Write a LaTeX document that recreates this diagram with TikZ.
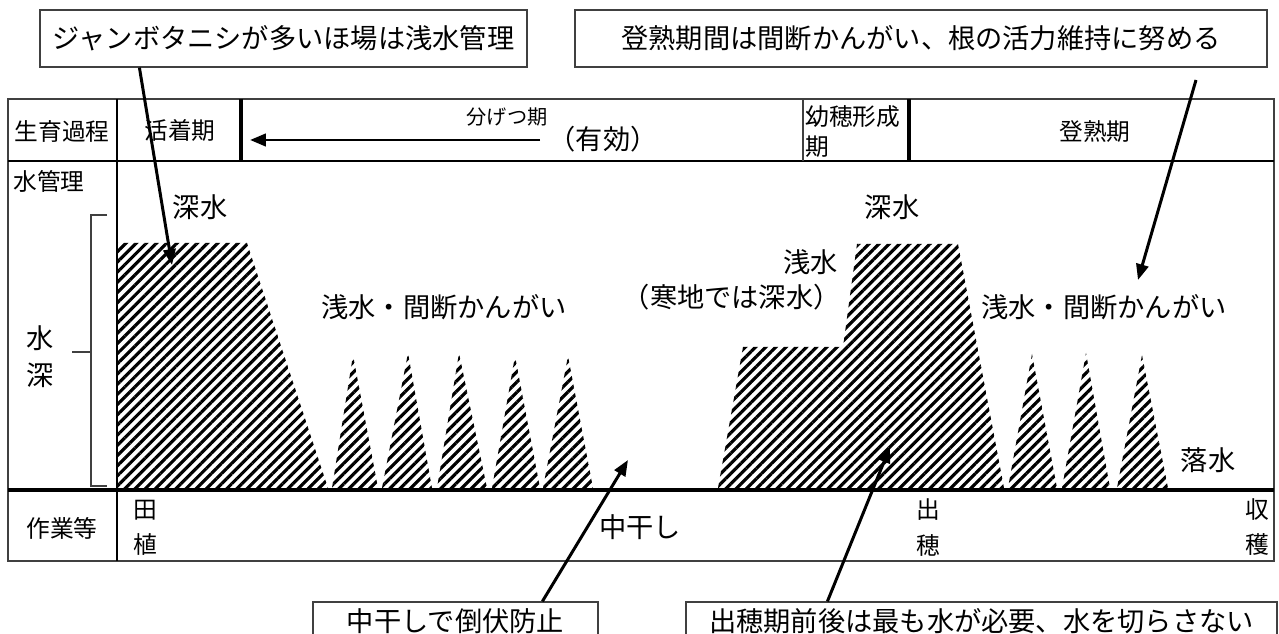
\documentclass[tikz,border=0pt]{standalone}
\usepackage{fontspec}
\setmainfont{Noto Sans CJK JP}
\usetikzlibrary{patterns.meta,arrows.meta}
\begin{document}
\begin{tikzpicture}[x=0.02cm,y=-0.02cm,
	>={Triangle[length=9pt,width=7pt]},
	hatch/.style={pattern={Lines[angle=45,distance=4.1pt,line width=1.8pt]}},
	tbl/.style={inner sep=0pt,font=\fontsize{13.5}{16}\selectfont},
	small/.style={inner sep=0pt,font=\fontsize{11.5}{14}\selectfont},
	lbl/.style={inner sep=0pt,font=\fontsize{15.5}{18}\selectfont},
	callout/.style={rectangle,draw=black!75,line width=0.7pt,fill=white,font=\fontsize{15.5}{18}\selectfont}]
		\useasboundingbox (0,0) rectangle (1279,634);
		
		%water depth
		\fill[hatch] (118,243) -- (247,243) -- (328,488) -- (118,488) -- cycle;
		\fill[hatch] (332,488) -- (353,355) -- (378,488) -- cycle;
		\fill[hatch] (382,488) -- (408,353) -- (432,488) -- cycle;
		\fill[hatch] (437,488) -- (459,353) -- (487,488) -- cycle;
		\fill[hatch] (492,488) -- (515,356) -- (540,488) -- cycle;
		\fill[hatch] (543,488) -- (568,356) -- (593,488) -- cycle;
		\fill[hatch] (718,488) -- (743,347) -- (843,347) -- (857,244) -- (958,244) -- (1004,488) -- cycle;
		\fill[hatch] (1008,488) -- (1032,354) -- (1057,488) -- cycle;
		\fill[hatch] (1062,488) -- (1086,353) -- (1110,488) -- cycle;
		\fill[hatch] (1117,488) -- (1142,355) -- (1168,488) -- cycle;
		%table
		\draw[black!75,line width=0.6pt] (8,99) rectangle (1274,561);
		\draw[line width=1.2pt] (8,161) -- (1274,161);
		\draw[line width=2pt] (8,490) -- (1274,490);
		\draw[line width=1.2pt] (117,99) -- (117,561);
		\draw[line width=1.8pt] (241,99) -- (241,161);
		\draw[black!75,line width=0.6pt] (803,99) -- (803,161);
		\draw[line width=1.8pt] (909,99) -- (909,161);
		%bracket
		\draw[black!75,line width=0.6pt] (107,215) -- (91,215) -- (91,486) -- (107,486);
		\draw[black!75,line width=0.6pt] (72,352) -- (91,352);
		%labels
		\node[tbl](stage) at (62,131) {生育過程};
		\node[tbl](rooting) at (180,131) {活着期};
		\node[small](tiller) at (507,117) {分げつ期};
		\node[lbl](effective) at (603,139) {（有効）};
		\node[tbl,anchor=west](panicle) at (805,117) {幼穂形成};
		\node[tbl,anchor=west](panicleb) at (805,147) {期};
		\node[tbl](ripening) at (1095,132) {登熟期};
		\node[tbl,anchor=west](water) at (13,181) {水管理};
		\node[lbl](depthA) at (40,338) {水};
		\node[lbl](depthB) at (40,375) {深};
		\node[lbl](deepL) at (200,207) {深水};
		\node[lbl](deepR) at (892,207) {深水};
		\node[lbl](shallowL) at (444,307) {浅水・間断かんがい};
		\node[lbl](shallowR) at (1104,307) {浅水・間断かんがい};
		\node[lbl,anchor=east](shallowM) at (838,262) {浅水};
		\node[lbl,anchor=east](cold) at (841,297) {（寒地では深水）};
		\node[lbl](drain) at (1208,460) {落水};
		\node[tbl](work) at (62,528) {作業等};
		\node[tbl](plantA) at (145,510) {田};
		\node[tbl](plantB) at (145,545) {植};
		\node[lbl](middry) at (640,527) {中干し};
		\node[tbl](headA) at (928,510) {出};
		\node[tbl](headB) at (928,545) {穂};
		\node[tbl](harvA) at (1257,510) {収};
		\node[tbl](harvB) at (1257,545) {穫};
		%notes
		\node[callout,minimum width=9.74cm,minimum height=1.14cm](snail) at (283.5,38.5) {ジャンボタニシが多いほ場は浅水管理};
		\node[callout,minimum width=13.84cm,minimum height=1.14cm](ripen) at (921,38.5) {登熟期間は間断かんがい、根の活力維持に努める};
		\node[callout,minimum width=5.7cm,minimum height=0.76cm](lodging) at (455.5,621) {中干しで倒伏防止};
		\node[callout,minimum width=11.82cm,minimum height=0.76cm](heading) at (981.5,621) {出穂期前後は最も水が必要、水を切らさない};
		%arrows
		\coordinate (tillerA) at (540,140);
		\coordinate (tillerB) at (250,140);
		\coordinate (snailEnd) at (172,265);
		\coordinate (ripenStart) at (1196,80);
		\coordinate (ripenEnd) at (1138,280);
		\coordinate (lodgingEnd) at (628,460);
		\coordinate (headingEnd) at (890,447);
		\draw[line width=1.7pt,->] (tillerA) -- (tillerB);
		\draw[line width=1.7pt,->] ([xshift=2cm]snail.south west) -- (snailEnd);
		\draw[line width=1.7pt,->] (ripenStart) -- (ripenEnd);
		\draw[line width=1.7pt,->] ([xshift=4.6cm]lodging.north west) -- (lodgingEnd);
		\draw[line width=1.7pt,->] ([xshift=2.84cm]heading.north west) -- (headingEnd);
		\end{tikzpicture}
\end{document}
